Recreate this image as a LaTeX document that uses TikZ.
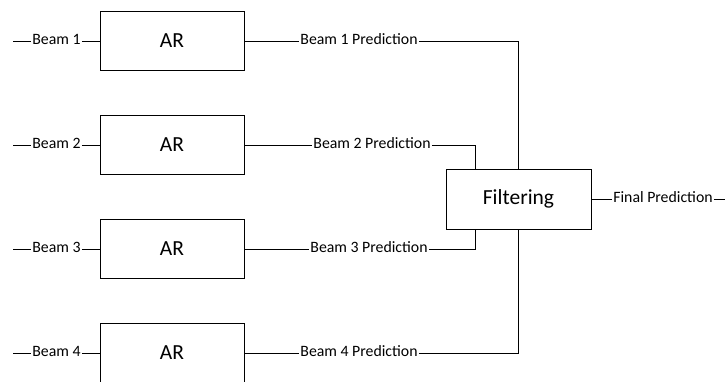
\documentclass[tikz,border=0pt]{standalone}
\usepackage{fontspec}
\setmainfont{Carlito}
\begin{document}
\begin{tikzpicture}[x=1pt,y=-1pt,
  wire/.style={draw=black,line width=0.9pt},
  blockbox/.style={draw=black,line width=0.9pt,minimum width=144pt,minimum height=59.5pt,inner sep=0pt,font=\fontsize{21.5}{24}\selectfont},
  tag/.style={inner sep=1pt,font=\fontsize{15.8}{18}\selectfont,text height=0.95em,text depth=0.21em}]
\useasboundingbox (0,0) rectangle (726,381);

% four AR blocks
\node[blockbox] (ar1) at (172,41) {AR};
\node[blockbox] (ar2) at (172,145) {AR};
\node[blockbox] (ar3) at (172,249) {AR};
\node[blockbox] (ar4) at (172,353) {AR};

% filter block
\node[blockbox,minimum width=145pt,minimum height=60pt] (filt) at (518.5,199) {Filtering};

% inputs
\foreach \i/\y in {1/41,2/145,3/249,4/353}{
  \coordinate (s\i) at (13,\y);
  \node[tag] (b\i) at (56.5,\y) {Beam \i};
  \draw[wire] (s\i) -- (b\i);
  \draw[wire] (b\i) -- (ar\i);
}

% prediction labels
\node[tag] (p1) at (359,41) {Beam 1 Prediction};
\node[tag] (p2) at (372,145) {Beam 2 Prediction};
\node[tag] (p3) at (369,249) {Beam 3 Prediction};
\node[tag] (p4) at (359,353) {Beam 4 Prediction};

\foreach \i in {1,...,4}{ \draw[wire] (ar\i) -- (p\i); }

\draw[wire] (p1) -| (filt.north);
\draw[wire] (p2) -| ([xshift=-43.5pt]filt.north);
\draw[wire] (p3) -| ([xshift=-43.5pt]filt.south);
\draw[wire] (p4) -| (filt.south);

% output
\node[tag] (fin) at (663,199) {Final Prediction};
\coordinate (out) at (725,199);
\draw[wire] (filt) -- (fin);
\draw[wire] (fin) -- (out);
\end{tikzpicture}
\end{document}
